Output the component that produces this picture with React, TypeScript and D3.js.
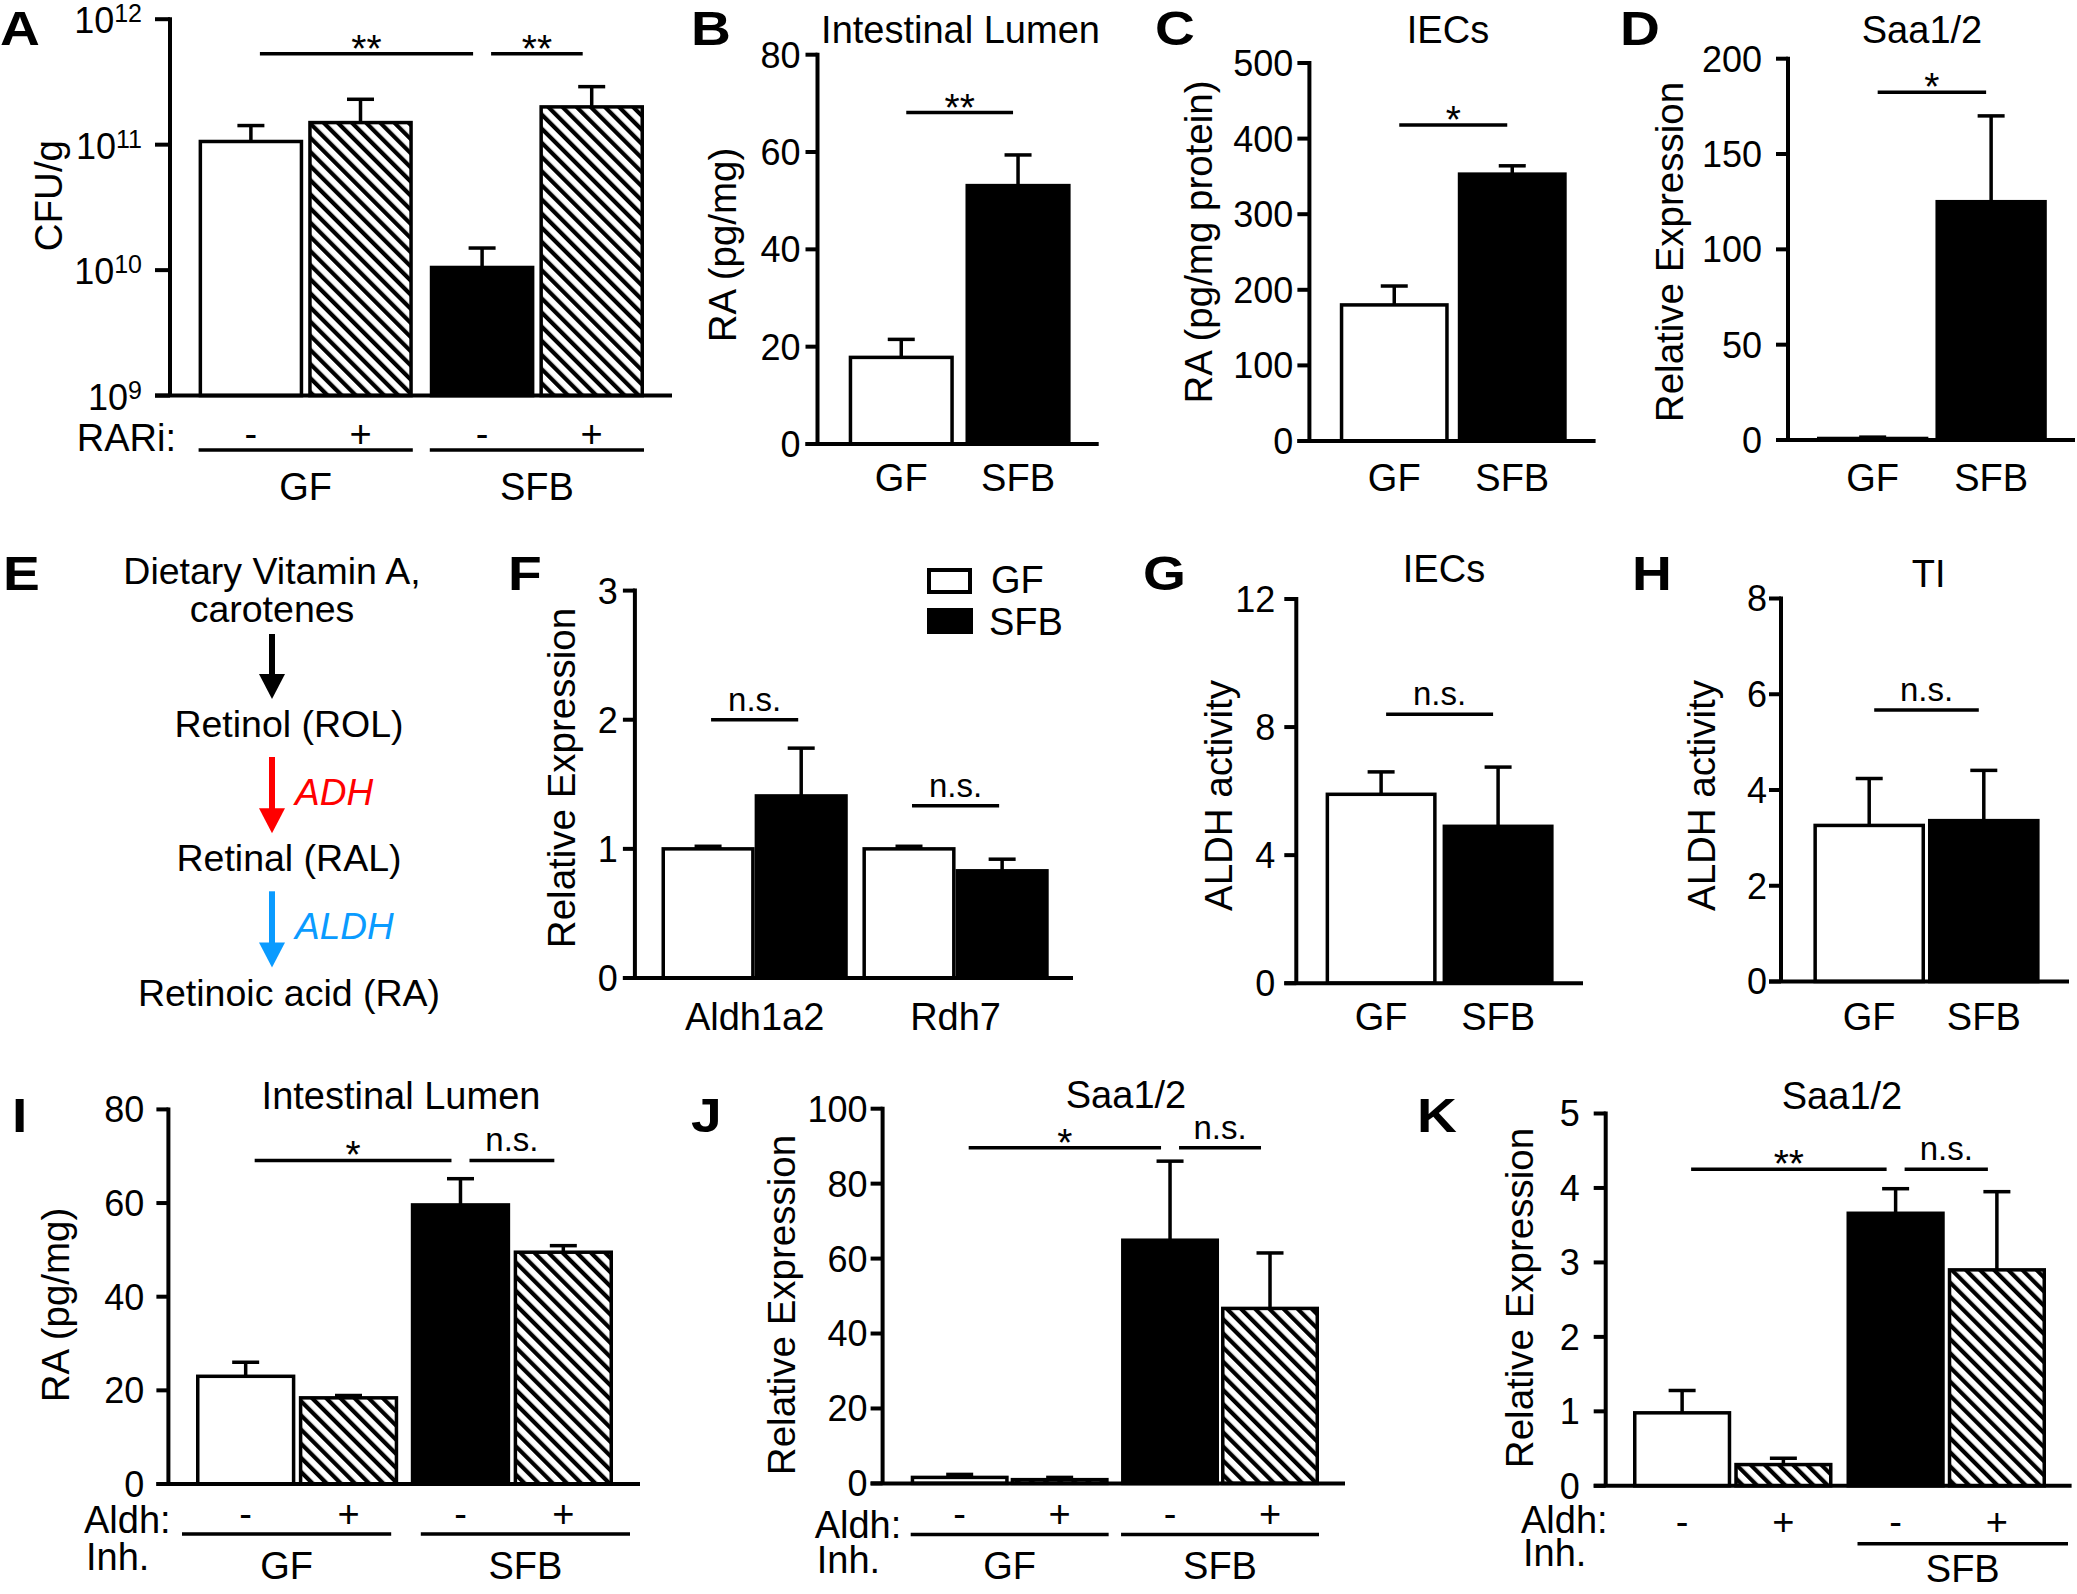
import React from "react";
import * as d3 from "d3";

// ---- data ----
const groups = ["GF", "SFB"];
const treatments = ["-", "+"];

// A: CFU/g (log scale)
const cfuMean = [1.06e11, 1.5e11, 1.05e10, 2.0e11];
const cfuSem = [0.36e11, 0.8e11, 0.45e10, 0.9e11];
const cfuTicks = [1e9, 1e10, 1e11, 1e12];

// B: RA in intestinal lumen
const lumenMean = [17.8, 53.1];
const lumenSem = [3.7, 6.3];
const lumenTicks = [0, 20, 40, 60, 80];

// C: RA in IECs
const iecRaMean = [180, 353];
const iecRaSem = [25, 11];
const iecRaTicks = [0, 100, 200, 300, 400, 500];

// D: Saa1/2
const saaMean = [0.8, 125];
const saaSem = [0.7, 45];
const saaTicks = [0, 50, 100, 150, 200];

// E: pathway
const pathHeader = ["Dietary Vitamin A,", "carotenes"];
const pathway = ["Retinol (ROL)", "Retinal (RAL)", "Retinoic acid (RA)"];
const enzymes = ["ADH", "ALDH"];

// F: gene expression
const genes = ["Aldh1a2", "Rdh7"];
const geneGfMean = [1.0, 1.0];
const geneGfSem = [0.02, 0.02];
const geneSfbMean = [1.41, 0.83];
const geneSfbSem = [0.37, 0.09];
const geneTicks = [0, 1, 2, 3];

// G: ALDH activity IECs
const iecAldhMean = [5.9, 4.9];
const iecAldhSem = [0.7, 1.85];
const iecAldhTicks = [0, 4, 8, 12];

// H: ALDH activity TI
const tiAldhMean = [3.26, 3.36];
const tiAldhSem = [0.98, 1.05];
const tiAldhTicks = [0, 2, 4, 6, 8];

// I: RA with Aldh inhibitor
const inhRaMean = [23.0, 18.4, 59.6, 49.5];
const inhRaSem = [3.0, 0.5, 5.6, 1.4];
const inhRaTicks = [0, 20, 40, 60, 80];

// J: Saa1/2 with Aldh inhibitor
const inhSaaMean = [1.6, 1.0, 64.9, 46.7];
const inhSaaSem = [0.8, 0.6, 21.1, 14.8];
const inhSaaTicks = [0, 20, 40, 60, 80, 100];

// K: Saa1/2 with Aldh inhibitor (second experiment)
const inhSaa2Mean = [0.98, 0.285, 3.66, 2.9];
const inhSaa2Sem = [0.3, 0.085, 0.33, 1.05];
const inhSaa2Ticks = [0, 1, 2, 3, 4, 5];

// significance brackets (y in data units)
const sigA = [["GF|-", "SFB|-", 5.3e11, "**"], ["SFB|-", "SFB|+", 5.3e11, "**"]];
const sigB = [["GF", "SFB", 68.1, "**"]];
const sigC = [["GF", "SFB", 418, "*"]];
const sigD = [["GF", "SFB", 182.4, "*"]];
const sigF = [["Aldh1a2|GF", "Aldh1a2|SFB", 2.0, "n.s."], ["Rdh7|GF", "Rdh7|SFB", 1.333, "n.s."]];
const sigG = [["GF", "SFB", 8.4, "n.s."]];
const sigH = [["GF", "SFB", 5.67, "n.s."]];
const sigI = [["GF|-", "SFB|-", 69.1, "*"], ["SFB|-", "SFB|+", 69.1, "n.s."]];
const sigJ = [["GF|-", "SFB|-", 89.6, "*"], ["SFB|-", "SFB|+", 89.6, "n.s."]];
const sigK = [["GF|-", "SFB|-", 4.25, "**"], ["SFB|-", "SFB|+", 4.25, "n.s."]];

const FONT = "'Liberation Sans', Arial, Helvetica, sans-serif";
const SW = 3.5;

type Bar = { key: string; x: number; w: number; value: number; sem: number; fill: string };

const fillFor = (g: string, t: string) =>
  t === "+" ? "url(#hatch)" : g === "GF" ? "#fff" : "#000";

function twoBars(x0: number, x1: number, pad: number, means: number[], sems: number[]): Bar[] {
  const x = d3.scaleBand().domain(groups).range([x0, x1]).paddingInner(pad);
  return groups.map((g, i) => ({
    key: g, x: x(g)!, w: x.bandwidth(), value: means[i], sem: sems[i], fill: fillFor(g, "-"),
  }));
}

function fourBars(x0: number, x1: number, pOut: number, pIn: number, means: number[], sems: number[]) {
  const outer = d3.scaleBand().domain(groups).range([x0, x1]).paddingInner(pOut);
  const inner = d3.scaleBand().domain(treatments).range([0, outer.bandwidth()]).paddingInner(pIn);
  const bars: Bar[] = [];
  groups.forEach((g, gi) =>
    treatments.forEach((t, ti) => {
      const i = gi * 2 + ti;
      bars.push({ key: g + "|" + t, x: outer(g)! + inner(t)!, w: inner.bandwidth(), value: means[i], sem: sems[i], fill: fillFor(g, t) });
    })
  );
  return { bars, outer };
}

function YAxis({ x, y, ticks, xEnd, tickLen = 12, gap = 5, fmt }: any) {
  const [b, t] = y.range();
  return (
    <g>
      <line x1={x} x2={x} y1={b} y2={t - 2} stroke="#000" strokeWidth={4} />
      {ticks.map((v: number) => (
        <g key={v}>
          <line x1={x - tickLen} x2={x} y1={y(v)} y2={y(v)} stroke="#000" strokeWidth={4} />
          {fmt ? (
            fmt(v, x - tickLen - gap, y(v))
          ) : (
            <text x={x - tickLen - gap} y={y(v)} dy="0.36em" textAnchor="end" fontSize={36}>
              {v}
            </text>
          )}
        </g>
      ))}
      <line x1={x - tickLen} x2={xEnd} y1={b} y2={b} stroke="#000" strokeWidth={4} />
    </g>
  );
}

function Bars({ bars, y }: { bars: Bar[]; y: any }) {
  const base = y.range()[0];
  return (
    <g>
      {bars.map((b) => {
        const top = y(b.value);
        const errTop = y(b.value + b.sem);
        const cx = b.x + b.w / 2;
        return (
          <g key={b.key}>
            <line x1={cx} x2={cx} y1={top} y2={errTop} stroke="#000" strokeWidth={SW} />
            <line x1={cx - 13.5} x2={cx + 13.5} y1={errTop} y2={errTop} stroke="#000" strokeWidth={SW} />
            <rect x={b.x + SW / 2} y={top} width={b.w - SW} height={Math.max(0, base - top)} fill={b.fill} stroke="#000" strokeWidth={SW} />
          </g>
        );
      })}
    </g>
  );
}

function Sig({ sigs, bars, y, inset = 7 }: any) {
  const c = (k: string) => {
    const b = bars.find((d: Bar) => d.key === k);
    return b.x + b.w / 2;
  };
  return (
    <g>
      {sigs.map(([a, b, v, label]: any, i: number) => {
        const yy = y(v);
        const x1 = c(a) + inset;
        const x2 = c(b) - inset;
        const star = label.includes("*");
        return (
          <g key={i}>
            <line x1={x1} x2={x2} y1={yy} y2={yy} stroke="#000" strokeWidth={SW} />
            <text x={(x1 + x2) / 2} y={star ? yy + 8 : yy - 9} textAnchor="middle" fontSize={star ? 39 : 33}>
              {label}
            </text>
          </g>
        );
      })}
    </g>
  );
}

const Letter = ({ x, y, t }: any) => (
  <text transform={`translate(${x},${y}) scale(1.15,1)`} fontSize={48} fontWeight="bold">
    {t}
  </text>
);
const Title = ({ x, y, t }: any) => (
  <text x={x} y={y} fontSize={38} textAnchor="middle">
    {t}
  </text>
);
const YLabel = ({ x, y, t }: any) => (
  <text transform={`translate(${x},${y}) rotate(-90)`} dy="0.36em" fontSize={38.5} textAnchor="middle">
    {t}
  </text>
);
const CatLabels = ({ bars, y }: any) => (
  <g>
    {bars.map((b: Bar) => (
      <text key={b.key} x={b.x + b.w / 2} y={y} dy="0.36em" textAnchor="middle" fontSize={38}>
        {b.key}
      </text>
    ))}
  </g>
);

function TreatmentRows({ bars, outer, signY, lineY, labelY, rowLabel, only, shifts }: any) {
  const shown = only || groups;
  return (
    <g>
      {bars.map((b: Bar) => (
        <text key={b.key} x={b.x + b.w / 2} y={signY} dy="0.36em" textAnchor="middle" fontSize={38}>
          {b.key.split("|")[1]}
        </text>
      ))}
      {shown.map((g: string) => {
        const [s0, s1] = (shifts && shifts[g]) || [0, 0];
        const a = outer(g) + s0;
        const b = outer(g) + outer.bandwidth() + s1;
        return (
          <g key={g}>
            <line x1={a} x2={b} y1={lineY} y2={lineY} stroke="#000" strokeWidth={SW} />
            <text x={(a + b) / 2} y={labelY} dy="0.36em" textAnchor="middle" fontSize={38}>
              {g}
            </text>
          </g>
        );
      })}
      {rowLabel}
    </g>
  );
}

function PanelA() {
  const y = d3.scaleLog().domain([1e9, 1e12]).range([395.6, 19.2]);
  const { bars, outer } = fourBars(198.6, 644, 0.0735, 0.0457, cfuMean, cfuSem);
  const fmt = (v: number, x: number, yy: number) => (
    <text x={x} y={yy + 14} textAnchor="end" fontSize={36}>
      10
      <tspan dy={-11} fontSize={25}>
        {Math.round(Math.log10(v))}
      </tspan>
    </text>
  );
  return (
    <g>
      <Letter x={0} y={45} t="A" />
      <YLabel x={47.7} y={195.6} t="CFU/g" />
      <Bars bars={bars} y={y} />
      <YAxis x={170} y={y} ticks={cfuTicks} xEnd={672} tickLen={15} gap={13} fmt={fmt} />
      <Sig sigs={sigA} bars={bars} y={y} inset={9} />
      <TreatmentRows
        bars={bars}
        outer={outer}
        signY={433}
        lineY={450}
        labelY={486}
        rowLabel={
          <text x={176} y={451} textAnchor="end" fontSize={38}>
            RARi:
          </text>
        }
      />
    </g>
  );
}

function TwoBarPanel({ letter, lx, ly, title, tx, ty, ylab, ylx, yly, y, ticks, axisX, x0, x1, pad, xEnd, means, sems, sigs, catY, gap }: any) {
  const bars = twoBars(x0, x1, pad, means, sems);
  return (
    <g>
      <Letter x={lx} y={ly} t={letter} />
      <Title x={tx} y={ty} t={title} />
      <YLabel x={ylx} y={yly} t={ylab} />
      <Bars bars={bars} y={y} />
      <YAxis x={axisX} y={y} ticks={ticks} xEnd={xEnd} gap={gap} />
      <Sig sigs={sigs} bars={bars} y={y} inset={5} />
      <CatLabels bars={bars} y={catY} />
    </g>
  );
}

function PanelE() {
  const yRow = d3.scalePoint().domain(pathway).range([737, 1005.6]);
  const arrowX = 272;
  const colors = ["#ff0000", "#0a9bff"];
  const arrow = (yTop: number, yTip: number, color: string, key: string) => (
    <g key={key}>
      <line x1={arrowX} x2={arrowX} y1={yTop} y2={yTip - 20} stroke={color} strokeWidth={6} />
      <path d={`M${arrowX - 13},${yTip - 25} L${arrowX + 13},${yTip - 25} L${arrowX},${yTip} Z`} fill={color} />
    </g>
  );
  return (
    <g>
      <Letter x={3} y={590} t="E" />
      <text x={272} y={584} textAnchor="middle" fontSize={37.5}>
        {pathHeader[0]}
      </text>
      <text x={272} y={621.6} textAnchor="middle" fontSize={37.5}>
        {pathHeader[1]}
      </text>
      {arrow(634, yRow(pathway[0])! - 38, "#000", "top")}
      {pathway.map((p) => (
        <text key={p} x={289} y={yRow(p)} textAnchor="middle" fontSize={37.5}>
          {p}
        </text>
      ))}
      {enzymes.map((e, i) => {
        const a = yRow(pathway[i])! + 20;
        const b = yRow(pathway[i + 1])! - 38;
        return (
          <g key={e}>
            {arrow(a, b, colors[i], e)}
            <text x={295} y={(a + b) / 2 + 10} fontSize={37} fontStyle="italic" fill={colors[i]}>
              {e}
            </text>
          </g>
        );
      })}
    </g>
  );
}

function PanelF() {
  const y = d3.scaleLinear().domain([0, 3]).range([978, 590.6]);
  const outer = d3.scaleBand().domain(genes).range([661.5, 1048.7]).paddingInner(0.073);
  const inner = d3.scaleBand().domain(groups).range([0, outer.bandwidth()]).paddingInner(0);
  const bars: Bar[] = [];
  genes.forEach((g, i) => {
    bars.push({ key: g + "|GF", x: outer(g)!, w: inner.bandwidth(), value: geneGfMean[i], sem: geneGfSem[i], fill: "#fff" });
    bars.push({ key: g + "|SFB", x: outer(g)! + inner("SFB")!, w: inner.bandwidth(), value: geneSfbMean[i], sem: geneSfbSem[i], fill: "#000" });
  });
  return (
    <g>
      <Letter x={508} y={590} t="F" />
      <YLabel x={561} y={778} t="Relative Expression" />
      <Bars bars={bars} y={y} />
      <YAxis x={634.9} y={y} ticks={geneTicks} xEnd={1073} gap={5} />
      <Sig sigs={sigF} bars={bars} y={y} inset={3} />
      {genes.map((g) => (
        <text key={g} x={outer(g)! + outer.bandwidth() / 2} y={1016} dy="0.36em" textAnchor="middle" fontSize={38}>
          {g}
        </text>
      ))}
      <rect x={929} y={570} width={41} height={22} fill="#fff" stroke="#000" strokeWidth={4} />
      <text x={991} y={593} fontSize={38}>GF</text>
      <rect x={927} y={608} width={46} height={26} fill="#000" />
      <text x={989} y={635} fontSize={38}>SFB</text>
    </g>
  );
}

function FourBarPanel({ letter, lx, ly, title, tx, ty, ylab, ylx, yly, y, ticks, axisX, x0, x1, pOut, pIn, xEnd, means, sems, sigs, gap, signY, lineY, labelY, rowX, aldhY, inhY, only, shifts }: any) {
  const { bars, outer } = fourBars(x0, x1, pOut, pIn, means, sems);
  return (
    <g>
      <Letter x={lx} y={ly} t={letter} />
      <Title x={tx} y={ty} t={title} />
      <YLabel x={ylx} y={yly} t={ylab} />
      <Bars bars={bars} y={y} />
      <YAxis x={axisX} y={y} ticks={ticks} xEnd={xEnd} gap={gap} />
      <Sig sigs={sigs} bars={bars} y={y} inset={9} />
      <TreatmentRows
        bars={bars}
        outer={outer}
        signY={signY}
        lineY={lineY}
        labelY={labelY}
        only={only}
        shifts={shifts}
        rowLabel={
          <g>
            <text x={rowX} y={aldhY} fontSize={38}>Aldh:</text>
            <text x={rowX + 2} y={inhY} fontSize={38}>Inh.</text>
          </g>
        }
      />
    </g>
  );
}

export default function App() {
  return (
    <div>
      <style>{`body{margin:0;background:#fff}`}</style>
      <svg width={2077} height={1594} viewBox="0 0 2077 1594" fontFamily={FONT} style={{ display: "block" }}>
        <defs>
          <pattern id="hatch" patternUnits="userSpaceOnUse" width={10} height={10} patternTransform="rotate(-45)">
            <rect width={10} height={10} fill="#fff" />
            <rect x={0} y={0} width={4.2} height={10} fill="#000" />
          </pattern>
        </defs>
        <rect width={2077} height={1594} fill="#fff" />
        <PanelA />
        <TwoBarPanel
          letter="B" lx={691} ly={45} title="Intestinal Lumen" tx={960.5} ty={43}
          ylab="RA (pg/mg)" ylx={722} yly={245}
          y={d3.scaleLinear().domain([0, 80]).range([444, 54.7])} ticks={lumenTicks}
          axisX={817.5} x0={848.7} x1={1070.6} pad={0.1} xEnd={1098.7} gap={5}
          means={lumenMean} sems={lumenSem} sigs={sigB} catY={477.5}
        />
        <TwoBarPanel
          letter="C" lx={1155} ly={45} title="IECs" tx={1448} ty={43}
          ylab="RA (pg/mg protein)" ylx={1198} yly={242}
          y={d3.scaleLinear().domain([0, 500]).range([441, 63])} ticks={iecRaTicks}
          axisX={1309.4} x0={1339.8} x1={1566.7} pad={0.077} xEnd={1595.6} gap={4}
          means={iecRaMean} sems={iecRaSem} sigs={sigC} catY={477.5}
        />
        <TwoBarPanel
          letter="D" lx={1620} ly={45} title="Saa1/2" tx={1922} ty={43}
          ylab="Relative Expression" ylx={1669} yly={252}
          y={d3.scaleLinear().domain([0, 200]).range([440, 58.7])} ticks={saaTicks}
          axisX={1788} x0={1817} x1={2046.8} pad={0.06} xEnd={2075} gap={14}
          means={saaMean} sems={saaSem} sigs={sigD} catY={477.5}
        />
        <PanelE />
        <PanelF />
        <TwoBarPanel
          letter="G" lx={1143} ly={590} title="IECs" tx={1444} ty={582}
          ylab="ALDH activity" ylx={1218.4} yly={795.5}
          y={d3.scaleLinear().domain([0, 12]).range([983.2, 599])} ticks={iecAldhTicks}
          axisX={1296.3} x0={1325.6} x1={1553.6} pad={0.051} xEnd={1583} gap={9}
          means={iecAldhMean} sems={iecAldhSem} sigs={sigG} catY={1016}
        />
        <TwoBarPanel
          letter="H" lx={1632} ly={590} title="TI" tx={1928.7} ty={587}
          ylab="ALDH activity" ylx={1701.3} yly={795.5}
          y={d3.scaleLinear().domain([0, 8]).range([981.5, 598.5])} ticks={tiAldhTicks}
          axisX={1781} x0={1813.4} x1={2039.6} pad={0.026} xEnd={2069} gap={2}
          means={tiAldhMean} sems={tiAldhSem} sigs={sigH} catY={1016}
        />
        <FourBarPanel
          letter="I" lx={12} ly={1132} title="Intestinal Lumen" tx={401} ty={1109}
          ylab="RA (pg/mg)" ylx={55} yly={1305}
          y={d3.scaleLinear().domain([0, 80]).range([1484, 1109.4])} ticks={inhRaTicks}
          axisX={168.4} x0={196} x1={613} pOut={0.0587} pIn={0.034} xEnd={640} gap={12}
          means={inhRaMean} sems={inhRaSem} sigs={sigI}
          signY={1513} lineY={1534} labelY={1565.8} rowX={84} aldhY={1533} inhY={1570}
          shifts={{ GF: [-14, -7], SFB: [10, 17] }}
        />
        <FourBarPanel
          letter="J" lx={691} ly={1132} title="Saa1/2" tx={1126} ty={1107.7}
          ylab="Relative Expression" ylx={781} yly={1305}
          y={d3.scaleLinear().domain([0, 100]).range([1483.4, 1108.7])} ticks={inhSaaTicks}
          axisX={882.6} x0={910.7} x1={1319} pOut={0.059} pIn={0.02} xEnd={1345} gap={3}
          means={inhSaaMean} sems={inhSaaSem} sigs={sigJ}
          signY={1513} lineY={1534.5} labelY={1565.8} rowX={814.7} aldhY={1538} inhY={1573}
        />
        <FourBarPanel
          letter="K" lx={1417} ly={1132} title="Saa1/2" tx={1842} ty={1109}
          ylab="Relative Expression" ylx={1519} yly={1298}
          y={d3.scaleLinear().domain([0, 5]).range([1485.8, 1113.5])} ticks={inhSaa2Ticks}
          axisX={1605.7} x0={1633} x1={2046} pOut={0.0656} pIn={0.03} xEnd={2071.6} gap={14}
          means={inhSaa2Mean} sems={inhSaa2Sem} sigs={sigK}
          signY={1521.5} lineY={1543.7} labelY={1568} rowX={1521} aldhY={1533} inhY={1566}
          only={["SFB"]} shifts={{ SFB: [11, 22] }}
        />
      </svg>
    </div>
  );
}
